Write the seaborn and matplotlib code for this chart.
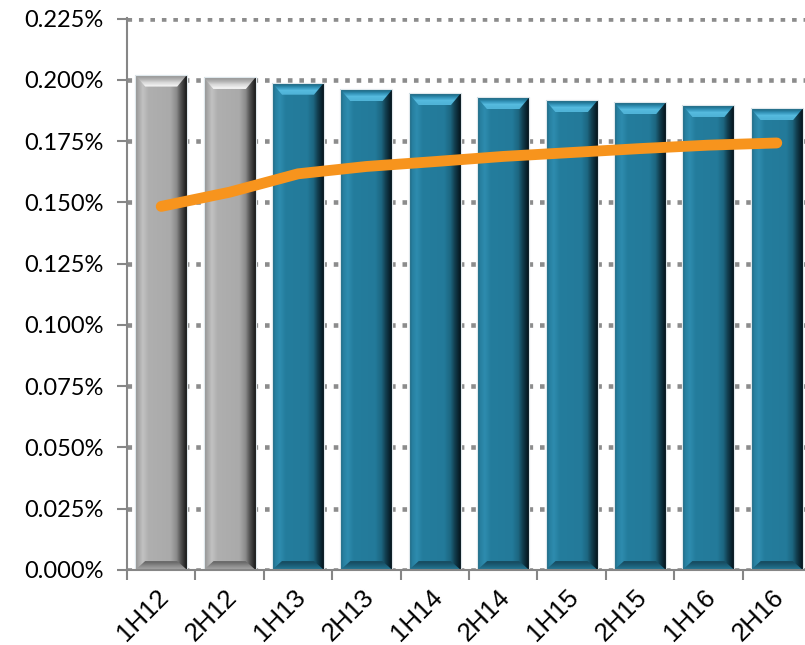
import numpy as np
import pandas as pd
import matplotlib
matplotlib.use("Agg")
import matplotlib.pyplot as plt
import seaborn as sns
from matplotlib.colors import LinearSegmentedColormap, to_rgb
from matplotlib.patches import Polygon
from matplotlib.ticker import FixedLocator, FuncFormatter
from matplotlib.transforms import ScaledTranslation

# ---- data (percent) ----
periods = ["1H12", "2H12", "1H13", "2H13", "1H14", "2H14", "1H15", "2H15", "1H16", "2H16"]
bar_values = [0.2022, 0.2011, 0.1989, 0.1962, 0.1946, 0.1929, 0.1917, 0.1909, 0.1898, 0.1884]
line_values = [0.1484, 0.1542, 0.1617, 0.1647, 0.1667, 0.1688, 0.1704, 0.1720, 0.1734, 0.1743]
bar_kind = ["actual", "actual"] + ["forecast"] * 8
y_ticks = [0.0, 0.025, 0.05, 0.075, 0.1, 0.125, 0.15, 0.175, 0.2, 0.225]

df = pd.DataFrame({"period": periods, "value": bar_values, "kind": bar_kind})

sns.set_theme(style="white")
plt.rcParams["font.family"] = ["Liberation Sans", "DejaVu Sans"]

fig = plt.figure(figsize=(8.05, 6.45), dpi=100)
ax = fig.add_axes([127 / 805, 75 / 645, 684 / 805, 552 / 645])

YMAX = 0.2253
base = {"actual": "#ababab", "forecast": "#247c9c"}
sns.barplot(data=df, x="period", y="value", hue="kind", palette=base,
            dodge=False, width=0.76, saturation=1, legend=False,
            edgecolor="#dfe8ec", linewidth=0.8, ax=ax, zorder=2)

# horizontal shading profiles (left -> right) for the bevelled bars
profiles = {
    "actual": [(0.0, "#8e8e8e"), (0.06, "#a6a6a6"), (0.15, "#c2c2c2"), (0.26, "#afafaf"),
               (0.68, "#aaaaaa"), (0.80, "#8c8c8c"), (0.88, "#555555"), (1.0, "#161616")],
    "forecast": [(0.0, "#1c6078"), (0.06, "#277f9f"), (0.15, "#2e8caf"), (0.26, "#247d9d"),
                 (0.68, "#237a9a"), (0.80, "#1d6680"), (0.88, "#123f50"), (1.0, "#04121a")],
}
top_bevel = {"actual": ["#9a9a9a", "#b4b4b4", "#d8d8d8", "#efefef"],
             "forecast": ["#1d6b87", "#3393b8", "#56bbdf", "#50b4d8"]}
bottom_bevel = {"actual": ["#a0a0a0", "#888888", "#6c6c6c"],
                "forecast": ["#23738f", "#1c5f78", "#174e63"]}

ax.set_xlim(-0.5, len(periods) - 0.5)
ax.set_ylim(0, YMAX)

# pixel-sized bevels converted to data units
px_x = len(periods) / 684.0
px_y = YMAX / 552.0
bw = 10 * px_x
bv = 12 * px_y
bvb = 9 * px_y

patches = sorted(ax.patches, key=lambda p: p.get_x())
for patch, kind in zip(patches, bar_kind):
    x0 = patch.get_x()
    w = patch.get_width()
    h = patch.get_height()
    x1 = x0 + w
    cmap = LinearSegmentedColormap.from_list("h", profiles[kind])
    grad = cmap(np.linspace(0, 1, 256))[np.newaxis, :, :3]
    im = ax.imshow(grad, extent=(x0, x1, 0, h), aspect="auto",
                   interpolation="bilinear", zorder=2.1)
    im.set_clip_path(patch)

    # top bevel
    tpoly = Polygon([(x0, h), (x1, h), (x1 - bw, h - bv), (x0 + bw, h - bv)],
                    closed=True, fill=False, linewidth=0, transform=ax.transData)
    ax.add_patch(tpoly)
    tgrad = np.array([to_rgb(c) for c in top_bevel[kind]])[:, np.newaxis, :].repeat(2, axis=1)
    tim = ax.imshow(tgrad, extent=(x0, x1, h - bv, h), aspect="auto",
                    interpolation="bilinear", zorder=2.2, origin="upper")
    tim.set_clip_path(tpoly)

    # bottom bevel
    bpoly = Polygon([(x0, 0), (x1, 0), (x1 - bw, bvb), (x0 + bw, bvb)],
                    closed=True, fill=False, linewidth=0, transform=ax.transData)
    ax.add_patch(bpoly)
    bgrad = np.array([to_rgb(c) for c in bottom_bevel[kind]])[::-1, np.newaxis, :].repeat(2, axis=1)
    bim = ax.imshow(bgrad, extent=(x0, x1, 0, bvb), aspect="auto",
                    interpolation="bilinear", zorder=2.2, origin="upper")
    bim.set_clip_path(bpoly)

    # thin light outline
    ax.add_patch(plt.Rectangle((x0, 0), w, h, fill=False, edgecolor="#dfe8ec",
                               linewidth=0.8, zorder=2.3))

ax.set_xlim(-0.5, len(periods) - 0.5)
ax.set_ylim(0, YMAX)

# orange line
sns.lineplot(x=np.arange(len(periods)), y=line_values, color="#f7941d",
             linewidth=7.8, ax=ax, zorder=5)
for ln in ax.lines:
    ln.set_solid_capstyle("round")
    ln.set_solid_joinstyle("round")

# dotted gridlines
ax.yaxis.set_major_locator(FixedLocator(y_ticks))
ax.yaxis.grid(True, color="#8c8c8c", linestyle=(0, (1, 1.5)), linewidth=3.3, zorder=1)
ax.set_axisbelow(True)
for gl in ax.get_ygridlines():
    gl.set_dash_capstyle("butt")
ax.xaxis.grid(False)

ax.yaxis.set_major_formatter(FuncFormatter(lambda v, _: f"{v:.3f}%"))
ax.tick_params(axis="y", which="major", direction="out", length=7, width=1.5,
               color="#868686", labelsize=17, pad=10, left=True, labelcolor="#000000")
for lab in ax.get_yticklabels():
    lab.set_fontfamily(["Lato", "DejaVu Sans"])

# category labels at centres, tick marks at boundaries
ax.set_xticks(np.arange(len(periods)))
ax.set_xticklabels(periods, rotation=45, ha="right", rotation_mode="anchor")
ax.set_xticks(np.arange(len(periods) + 1) - 0.5, minor=True)
ax.tick_params(axis="x", which="major", length=0, pad=11, labelsize=18.5,
               labelcolor="#000000")
ax.tick_params(axis="x", which="minor", direction="out", length=7, width=1.5,
               color="#868686", bottom=True)
shift = ScaledTranslation(-0.05, 0, fig.dpi_scale_trans)
for lab in ax.get_xticklabels():
    lab.set_fontfamily(["Liberation Sans", "DejaVu Sans"])
    lab.set_transform(lab.get_transform() + shift)

for side in ("top", "right"):
    ax.spines[side].set_visible(False)
for side in ("left", "bottom"):
    ax.spines[side].set_color("#868686")
    ax.spines[side].set_linewidth(1.5)
    ax.spines[side].set_zorder(6)

ax.set_xlabel("")
ax.set_ylabel("")

fig.savefig("out.png", dpi=100)
